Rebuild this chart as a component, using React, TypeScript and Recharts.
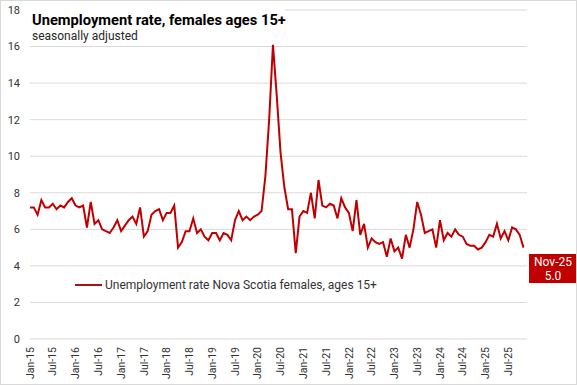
import { CartesianGrid, Line, LineChart, XAxis, YAxis } from "recharts";

const years = ["15", "16", "17", "18", "19", "20", "21", "22", "23", "24", "25"];
const monthNames = ["Jan", "Feb", "Mar", "Apr", "May", "Jun", "Jul", "Aug", "Sep", "Oct", "Nov", "Dec"];

// Jan-15 .. Nov-25
const months = years
  .flatMap((y) => monthNames.map((m) => `${m}-${y}`))
  .slice(0, 131);

const rates = [
  7.2, 7.2, 6.8, 7.6, 7.2, 7.2, 7.4, 7.1, 7.3, 7.2, 7.5, 7.7,
  7.3, 7.2, 7.3, 6.1, 7.5, 6.3, 6.5, 6.0, 5.9, 5.8, 6.1, 6.5,
  5.9, 6.2, 6.5, 6.7, 6.3, 7.2, 5.6, 5.9, 6.8, 7.0, 7.1, 6.5,
  6.9, 6.9, 7.3, 5.0, 5.3, 5.9, 5.9, 6.6, 5.8, 6.0, 5.6, 5.4,
  5.8, 5.8, 5.4, 5.8, 5.7, 5.4, 6.5, 7.0, 6.5, 6.7, 6.5, 6.7,
  6.8, 7.0, 8.9, 12.0, 16.1, 13.3, 10.2, 8.3, 7.1, 7.1, 4.7, 6.7,
  7.0, 6.9, 8.0, 6.6, 8.7, 7.3, 7.2, 7.4, 7.3, 6.6, 7.7, 7.2,
  6.9, 5.9, 7.6, 5.7, 6.3, 5.0, 5.5, 5.3, 5.2, 5.3, 4.5, 5.5,
  4.8, 5.0, 4.4, 5.7, 5.0, 6.0, 7.5, 6.8, 5.8, 5.9, 6.0, 5.0,
  6.5, 5.4, 5.8, 5.6, 6.0, 5.7, 5.6, 5.2, 5.1, 5.1, 4.9, 5.0,
  5.3, 5.7, 5.6, 6.3, 5.5, 5.9, 5.4, 6.1, 6.0, 5.7, 5.0,
];

const xTicks = [
  "Jan-15", "Jul-15", "Jan-16", "Jul-16", "Jan-17", "Jul-17", "Jan-18", "Jul-18",
  "Jan-19", "Jul-19", "Jan-20", "Jul-20", "Jan-21", "Jul-21", "Jan-22", "Jul-22",
  "Jan-23", "Jul-23", "Jan-24", "Jul-24", "Jan-25", "Jul-25",
];
const yTicks = [0, 2, 4, 6, 8, 10, 12, 14, 16, 18];

const data = months.map((m, i) => ({ month: m, rate: rates[i] }));

const RED = "#c00000";
const FONT = "Roboto, 'Noto Sans', sans-serif";

function MonthTick({ x, y, payload }: any) {
  return (
    <g transform={`translate(${x},${y})`}>
      <text
        transform="rotate(-90)"
        textAnchor="end"
        dy="0.35em"
        fontSize={10.5}
        fontFamily={FONT}
        fill="#333"
      >
        {payload.value}
      </text>
    </g>
  );
}

export default function App() {
  return (
    <div
      style={{
        position: "absolute",
        left: 0,
        top: 0,
        width: 577,
        height: 385,
        background: "#fff",
        fontFamily: FONT,
      }}
    >
      <LineChart
        width={577}
        height={385}
        data={data}
        margin={{ top: 10, right: 50, bottom: 0, left: 0 }}
      >
        <CartesianGrid vertical={false} stroke="#d9d9d9" />
        <XAxis
          dataKey="month"
          ticks={xTicks}
          interval={0}
          height={46}
          padding={{ left: 0, right: 3.5 }}
          tick={<MonthTick />}
          tickLine={false}
          axisLine={false}
          tickSize={0}
          tickMargin={8}
        />
        <YAxis
          domain={[0, 18]}
          ticks={yTicks}
          width={30}
          tick={{ fontSize: 11, fill: "#333", fontFamily: FONT }}
          tickLine={false}
          axisLine={false}
          tickSize={0}
          tickMargin={10}
        />
        <Line
          type="linear"
          dataKey="rate"
          stroke={RED}
          strokeWidth={2}
          dot={false}
          isAnimationActive={false}
        />
      </LineChart>

      {/* title block sits on top of the plot, hiding part of the top gridline */}
      <div
        style={{
          position: "absolute",
          left: 29,
          top: 4,
          width: 256,
          height: 39,
          background: "#fff",
        }}
      >
        <div style={{ position: "absolute", left: 3, top: 7, fontSize: 14.7, fontWeight: 700, color: "#000", whiteSpace: "nowrap", lineHeight: "18px" }}>
          Unemployment rate, females ages 15+
        </div>
        <div style={{ position: "absolute", left: 3, top: 25, fontSize: 12, color: "#262626", whiteSpace: "nowrap", lineHeight: "14px" }}>
          seasonally adjusted
        </div>
      </div>

      {/* legend */}
      <div style={{ position: "absolute", left: 75, top: 277, display: "flex", alignItems: "center", whiteSpace: "nowrap" }}>
        <div style={{ width: 27, height: 2, background: "#a31515", marginRight: 3 }} />
        <span style={{ fontSize: 12, color: "#333", lineHeight: "16px" }}>
          Unemployment rate Nova Scotia females, ages 15+
        </span>
      </div>

      {/* last value call-out */}
      <div
        style={{
          position: "absolute",
          left: 529,
          top: 254,
          width: 48,
          height: 29,
          background: RED,
          color: "#fff",
          fontSize: 12,
          lineHeight: "14px",
          textAlign: "center",
          paddingTop: 1,
          boxSizing: "border-box",
        }}
      >
        <div>{months[months.length - 1]}</div>
        <div>{rates[rates.length - 1].toFixed(1)}</div>
      </div>

      <div
        style={{
          position: "absolute",
          left: 0,
          top: 0,
          width: 577,
          height: 385,
          border: "1px solid #d9d9d9",
          boxSizing: "border-box",
          pointerEvents: "none",
        }}
      />
    </div>
  );
}
